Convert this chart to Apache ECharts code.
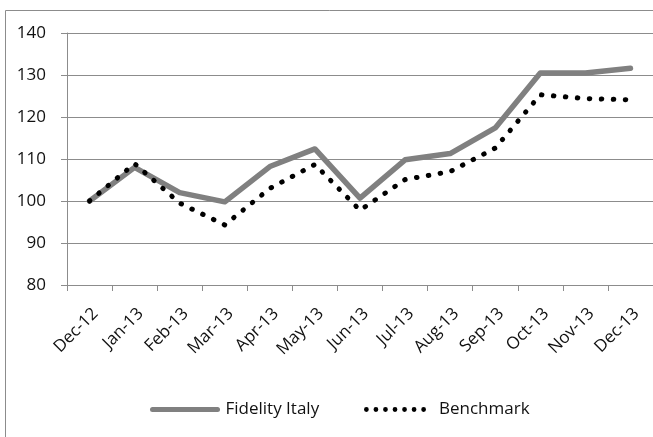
<!DOCTYPE html>
<html>
<head>
<meta charset="utf-8">
<script src="https://cdn.jsdelivr.net/npm/echarts@6/dist/echarts.min.js"></script>
<style>
html,body{margin:0;padding:0;background:#fff;}
#chart{width:653px;height:437px;}
</style>
</head>
<body>
<div id="chart"></div>
<script>
const categories = ['Dec-12','Jan-13','Feb-13','Mar-13','Apr-13','May-13','Jun-13','Jul-13','Aug-13','Sep-13','Oct-13','Nov-13','Dec-13'];
const fidelityItaly = [100, 108, 102, 99.8, 108.2, 112.4, 100.7, 109.8, 111.3, 117.4, 130.5, 130.5, 131.6];
const benchmark = [100, 108.9, 99.5, 94.3, 103, 108.7, 97.8, 105.1, 107, 112.6, 125.3, 124.4, 124.1];
const yTicks = [80, 90, 100, 110, 120, 130, 140];

const FONT = '"Open Sans", sans-serif';

// legend icon shapes (drawn by the legend, scaled to its item box)
function roundBar() {
  // capsule 70x5
  return 'path://M2.5,0 L67.5,0 A2.5,2.5 0 0 1 67.5,5 L2.5,5 A2.5,2.5 0 0 1 2.5,0 Z';
}
function dotRow(n, gap) {
  let p = '';
  for (let i = 0; i < n; i++) {
    const cx = 2.5 + i * gap;
    p += 'M' + (cx - 2.5) + ',2.5 A2.5,2.5 0 1 0 ' + (cx + 2.5) + ',2.5 A2.5,2.5 0 1 0 ' + (cx - 2.5) + ',2.5 Z ';
  }
  return 'path://' + p;
}

const chart = echarts.init(document.getElementById('chart'), null, {renderer: 'canvas'});
chart.setOption({
  animation: false,
  backgroundColor: '#fff',
  graphic: [{
    type: 'rect',
    shape: {x: 5.5, y: 10.5, width: 700, height: 500},
    style: {fill: 'none', stroke: '#8c8c8c', lineWidth: 1},
    silent: true, z: -10
  }],
  grid: {left: 67, right: -2, top: 33, bottom: 152, containLabel: false},
  legend: [
    {
      left: 145, top: 396,
      itemWidth: 71, itemHeight: 5, itemGap: 0,
      textStyle: {fontFamily: FONT, fontSize: 17, color: '#111'},
      data: [{name: 'Fidelity Italy', icon: roundBar(), itemStyle: {color: '#808080', borderWidth: 0}}]
    },
    {
      left: 359, top: 396,
      itemWidth: 62, itemHeight: 5, itemGap: 0, itemStyle: {borderWidth: 0},
      textStyle: {fontFamily: FONT, fontSize: 17, color: '#111', padding: [0, 0, 0, 8]},
      data: [{name: 'Benchmark', icon: dotRow(7, 10), itemStyle: {color: '#000', borderWidth: 0}}]
    }
  ],
  xAxis: {
    type: 'category',
    data: categories,
    boundaryGap: true,
    axisLine: {show: true, lineStyle: {color: '#8c8c8c', width: 1}},
    axisTick: {show: true, length: 6, interval: 0, lineStyle: {color: '#8c8c8c'}},
    axisLabel: {
      interval: 0, rotate: 45, margin: 20,
      align: 'right', verticalAlign: 'top',
      fontFamily: FONT, fontSize: 17, color: '#111'
    },
    splitLine: {show: false}
  },
  yAxis: {
    type: 'value',
    min: yTicks[0], max: yTicks[yTicks.length - 1], interval: 10,
    axisLine: {show: true, lineStyle: {color: '#8c8c8c', width: 1}},
    axisTick: {show: true, length: 6, lineStyle: {color: '#8c8c8c'}},
    axisLabel: {margin: 21, fontFamily: FONT, fontSize: 17, color: '#111'},
    splitLine: {show: true, lineStyle: {color: '#8c8c8c', width: 1}}
  },
  series: [
    {
      name: 'Fidelity Italy',
      type: 'line',
      data: fidelityItaly,
      symbol: 'none',
      itemStyle: {color: '#808080'},
      lineStyle: {color: '#808080', width: 5.5, cap: 'round', join: 'round'},
      z: 2
    },
    {
      name: 'Benchmark',
      type: 'line',
      data: benchmark,
      symbol: 'none',
      itemStyle: {color: '#000'},
      lineStyle: {color: '#000', width: 5, type: [0.5, 11.5], cap: 'round', join: 'round'},
      z: 3
    }
  ]
});
</script>
</body>
</html>
